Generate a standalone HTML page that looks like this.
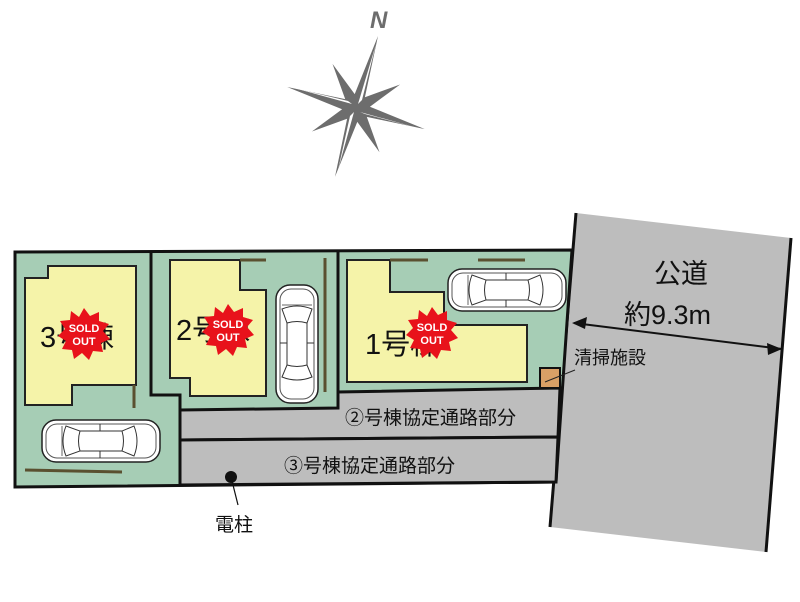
<!DOCTYPE html>
<html><head><meta charset="utf-8"><style>
html,body{margin:0;padding:0;background:#fff;width:800px;height:602px;overflow:hidden}
svg{display:block}
text{font-family:"Liberation Sans","Noto Sans CJK JP",sans-serif;fill:#111}
</style></head><body>
<svg width="800" height="602" viewBox="0 0 800 602" xmlns="http://www.w3.org/2000/svg">
<defs>
<g id="carh">
<rect x="0" y="0" width="118" height="42" rx="14" fill="#fff" stroke="#222" stroke-width="1.5"/>
<rect x="4" y="4" width="110" height="34" rx="11" fill="none" stroke="#555" stroke-width="1"/>
<path d="M24 6 Q18 21 24 36 L38 31 Q35 21 38 11 Z" fill="#fff" stroke="#333"/>
<path d="M92 6 Q98 21 92 36 L80 31 Q83 21 80 11 Z" fill="#fff" stroke="#333"/>
<line x1="38" y1="11" x2="80" y2="11" stroke="#333"/>
<line x1="38" y1="31" x2="80" y2="31" stroke="#333"/>
<line x1="58" y1="4" x2="58" y2="11" stroke="#333"/>
<line x1="58" y1="31" x2="58" y2="38" stroke="#333"/>
<line x1="20" y1="6" x2="20" y2="36" stroke="#666"/>
</g>
<g id="sold">
<polygon points="0,-26 6,-18 15,-22 15,-13 25,-10 19,-3 26,5 17,9 19,18 9,17 5,26 -2,19 -10,25 -12,16 -22,15 -18,7 -26,2 -19,-5 -24,-13 -14,-14 -13,-23 -5,-17" fill="#e8121b"/>
<text x="0" y="-2" font-size="11" font-weight="bold" text-anchor="middle" style="fill:#fff">SOLD</text>
<text x="0" y="11" font-size="11" font-weight="bold" text-anchor="middle" style="fill:#fff">OUT</text>
</g>
</defs>

<!-- compass -->
<polygon points="378,36 364.9,97.2 400.1,84.5 369.9,106.7 424.8,129.1 366.8,116.9 379.5,152.2 357.3,121.9 335,176.8 347.1,118.8 311.9,131.5 342.1,109.3 287.2,87 345.2,99.1 332.5,63.9 354.7,94.1" fill="#6d6d6d"/>
<g fill="#fff">
<polygon points="376,44 358,104 362,100"/>
<polygon points="418,128 360,112 365,114"/>
<polygon points="338,170 354,112 350,116"/>
<polygon points="294,88 352,104 348,101"/>
</g>
<text x="370" y="28" font-size="24" font-weight="bold" font-style="italic" style="fill:#6d6d6d">N</text>

<!-- road (public) -->
<polygon points="576,213 791,238 766,552 550,527" fill="#bdbdbd"/>
<line x1="576" y1="213" x2="550" y2="527" stroke="#111" stroke-width="3"/>
<line x1="791" y1="238" x2="766" y2="552" stroke="#111" stroke-width="3"/>

<!-- lot outer -->
<polygon points="15,252 572,250 556,482 15,487" fill="#a6cdb5" stroke="#111" stroke-width="3"/>
<polygon points="180,410 338,408 338,392 560,388 558,437 180,440" fill="#bdbdbd" stroke="#111" stroke-width="3"/>
<polygon points="180,440 558,437 556,482 180,485" fill="#bdbdbd" stroke="#111" stroke-width="3"/>
<polyline points="151,252 151,395 180,395 180,410" fill="none" stroke="#111" stroke-width="3"/>
<line x1="338" y1="251" x2="338" y2="392" stroke="#111" stroke-width="3"/>

<!-- houses -->
<polygon points="48,266 136,266 136,385 72,385 72,405 25,405 25,278 48,278" fill="#f5f3a9" stroke="#222" stroke-width="2"/>
<polygon points="170,260 240,260 240,290 266,290 266,396 190,396 190,378 170,378" fill="#f5f3a9" stroke="#222" stroke-width="2"/>
<polygon points="347,260 390,260 390,292 444,292 444,325 527,325 527,382 347,382" fill="#f5f3a9" stroke="#222" stroke-width="2"/>

<!-- fences -->
<g stroke="#5a5030" stroke-width="3">
<line x1="240" y1="260" x2="266" y2="260"/>
<line x1="325" y1="258" x2="325" y2="392"/>
<line x1="390" y1="260" x2="428" y2="260"/>
<line x1="478" y1="260" x2="525" y2="260"/>
<line x1="134" y1="385" x2="134" y2="408"/>
<line x1="25" y1="470" x2="122" y2="472"/>
</g>

<!-- cars -->
<use href="#carh" x="448" y="269"/>
<use href="#carh" x="42" y="420"/>
<use href="#carh" transform="translate(318,285) rotate(90)"/>

<rect x="540" y="368" width="20" height="20" fill="#d9a066" stroke="#111" stroke-width="2"/>
<line x1="545" y1="382" x2="575" y2="370" stroke="#222" stroke-width="1"/>

<text x="40" y="347" font-size="29">3号棟</text>
<text x="176" y="340" font-size="29">2号棟</text>
<text x="365" y="354" font-size="29">1号棟</text>
<use href="#sold" x="84" y="334"/>
<use href="#sold" x="228" y="330"/>
<use href="#sold" x="432" y="333"/>

<text x="345" y="424" font-size="19">②号棟協定通路部分</text>
<text x="284" y="472" font-size="19">③号棟協定通路部分</text>

<text x="654" y="283" font-size="27">公道</text>
<text x="624" y="324" font-size="27">約9.3m</text>
<line x1="574" y1="323" x2="782" y2="349" stroke="#111" stroke-width="2"/>
<polygon points="572,323 587,317 585,329" fill="#111"/>
<polygon points="782,349 767,343 768,355" fill="#111"/>
<text x="574" y="364" font-size="18">清掃施設</text>

<circle cx="231" cy="477" r="6" fill="#111"/>
<line x1="231" y1="477" x2="238" y2="505" stroke="#111" stroke-width="1.2"/>
<text x="215" y="531" font-size="19">電柱</text>
</svg>
</body></html>
